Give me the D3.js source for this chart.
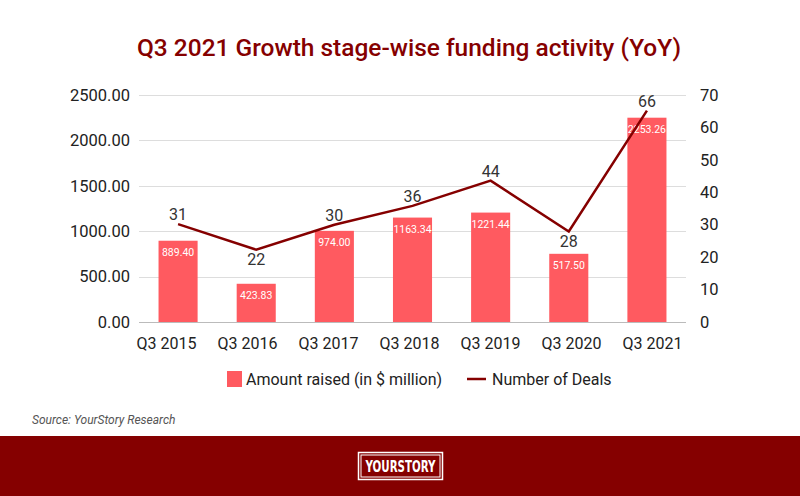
<!DOCTYPE html>
<html><head><meta charset="utf-8">
<script src="https://cdn.jsdelivr.net/npm/d3@7/dist/d3.min.js"></script>
<style>body{margin:0;background:#fff;}svg{display:block;font-family:Roboto,"Noto Sans",sans-serif;}</style>
</head><body><svg id="c" width="800" height="496"></svg>
<script>
const categories = ["Q3 2015","Q3 2016","Q3 2017","Q3 2018","Q3 2019","Q3 2020","Q3 2021"];
const amountValues = [895, 421, 1004, 1150, 1205, 751, 2250];
const amountLabels = ["889.40","423.83","974.00","1163.34","1221.44","517.50","2253.26"];
const dealValues = [30.2, 22.3, 30, 35.8, 43.6, 27.9, 65.2];
const dealLabels = ["31","22","30","36","44","28","66"];
const dealLabelBelow = [false,true,false,false,false,true,false];
const leftTicks = [0,500,1000,1500,2000,2500];
const rightTicks = [0,10,20,30,40,50,60,70];

const svg = d3.select("#c");
const red = "#ff5a60", dark = "#850000";
const x = d3.scaleBand().domain(categories).range([139,686]).paddingInner(0.5).paddingOuter(0.25);
const xLab = d3.scalePoint().domain(categories).range([166,652]);
const yL = d3.scaleLinear().domain([0,2500]).range([322,95]);
const yR = d3.scaleLinear().domain([0,70]).range([322,95]);

svg.append("text").attr("x",409).attr("y",56).attr("text-anchor","middle")
  .attr("font-size",24).attr("font-weight",500).attr("fill",dark)
  .attr("textLength",544).attr("lengthAdjust","spacingAndGlyphs")
  .text("Q3 2021 Growth stage-wise funding activity (YoY)");

// grid
svg.append("g").selectAll("line").data(leftTicks).join("line")
  .attr("x1",139).attr("x2",686).attr("y1",d=>Math.round(yL(d))+0.5).attr("y2",d=>Math.round(yL(d))+0.5)
  .attr("stroke",d=>d===0?"#bbb":"#ddd").attr("stroke-width",1);

const gl = svg.append("g").attr("transform","translate(139,0)")
  .call(d3.axisLeft(yL).tickValues(leftTicks).tickFormat(d3.format(".2f")).tickSize(0).tickPadding(9));
gl.select(".domain").remove();
gl.selectAll("text").attr("font-size",16.5).attr("fill","#222").attr("font-family","Roboto");

const gr = svg.append("g").attr("transform","translate(686,0)")
  .call(d3.axisRight(yR).tickValues(rightTicks).tickSize(0).tickPadding(14));
gr.select(".domain").remove();
gr.selectAll("text").attr("font-size",16.5).attr("fill","#222").attr("font-family","Roboto");

const gx = svg.append("g").attr("transform","translate(0,322)")
  .call(d3.axisBottom(xLab).tickSize(0).tickPadding(16));
gx.select(".domain").remove();
gx.selectAll("text").attr("font-size",16).attr("fill","#222").attr("font-family","Roboto");

// bars
svg.append("g").selectAll("rect").data(categories).join("rect")
  .attr("x",d=>x(d)).attr("width",x.bandwidth())
  .attr("y",(d,i)=>yL(amountValues[i])).attr("height",(d,i)=>yL(0)-yL(amountValues[i]))
  .attr("fill",red);
svg.append("g").selectAll("text").data(categories).join("text")
  .attr("x",d=>x(d)+x.bandwidth()/2).attr("y",(d,i)=>yL(amountValues[i])+15)
  .attr("text-anchor","middle").attr("font-size",10.5).attr("fill","#fff")
  .text((d,i)=>amountLabels[i]);

// line
const line = d3.line().x((d,i)=>x(categories[i])+x.bandwidth()/2).y(d=>yR(d));
svg.append("path").datum(dealValues).attr("d",line).attr("fill","none")
  .attr("stroke",dark).attr("stroke-width",2.5).attr("stroke-linejoin","miter");
svg.append("g").selectAll("text").data(categories).join("text")
  .attr("x",(d,i)=>x(d)+x.bandwidth()/2)
  .attr("y",(d,i)=>dealLabelBelow[i]? yR(dealValues[i])+15 : yR(dealValues[i])-4)
  .attr("text-anchor","middle").attr("font-size",16).attr("fill","#333")
  .text((d,i)=>dealLabels[i]);

// legend
const lg = svg.append("g");
lg.append("rect").attr("x",227).attr("y",371).attr("width",15).attr("height",16).attr("fill",red);
lg.append("text").attr("x",246).attr("y",385).attr("font-size",16).attr("fill","#222").text("Amount raised (in $ million)");
lg.append("line").attr("x1",467).attr("x2",486).attr("y1",379).attr("y2",379).attr("stroke",dark).attr("stroke-width",2.5);
lg.append("text").attr("x",492).attr("y",385).attr("font-size",16).attr("fill","#222").text("Number of Deals");

svg.append("text").attr("x",32).attr("y",424).attr("font-size",12).attr("font-style","italic")
  .attr("fill","#555").text("Source: YourStory Research");

// footer
svg.append("rect").attr("x",0).attr("y",436).attr("width",800).attr("height",60).attr("fill",dark);
svg.append("rect").attr("x",358.5).attr("y",452.5).attr("width",84).attr("height",27).attr("fill","none").attr("stroke","#fff").attr("stroke-width",1.5);
svg.append("rect").attr("x",361).attr("y",455).attr("width",79).attr("height",22).attr("fill","none").attr("stroke","#fff").attr("stroke-width",1);
svg.append("text").attr("x",400.5).attr("y",472).attr("text-anchor","middle")
  .attr("font-size",16).attr("font-weight",700).attr("fill","#fff")
  .attr("font-family","'DejaVu Sans Condensed','Liberation Sans Narrow',sans-serif")
  .attr("textLength",70).attr("lengthAdjust","spacingAndGlyphs").text("YOURSTORY");
</script></body></html>
